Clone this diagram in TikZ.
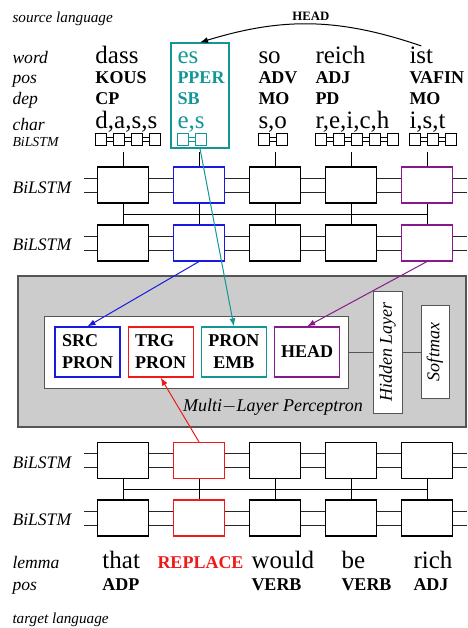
\documentclass[tikz,border=0pt]{standalone}
\usepackage{fontspec}
\setmainfont{Liberation Serif}
\usetikzlibrary{arrows.meta,positioning,calc}
\definecolor{CorAzul}{RGB}{25,25,225}
\definecolor{CorVermelho}{RGB}{240,25,25}
\definecolor{CorTeal}{RGB}{20,150,150}
\definecolor{CorRoxo}{RGB}{135,25,140}
\definecolor{CorCinza}{RGB}{204,204,204}
\definecolor{CorBorda}{RGB}{85,85,85}
\tikzset{
  rotulo/.style={anchor=base west, inner sep=0pt, font=\fontsize{8.8}{10}\selectfont\itshape},
  palavra/.style={anchor=base west, inner sep=0pt, font=\fontsize{12.5}{14}\selectfont},
  etiqueta/.style={anchor=base west, inner sep=0pt, font=\fontsize{9}{10}\selectfont\bfseries},
  celula/.style={draw, fill=white, line width=0.55pt, minimum width=25.5pt, minimum height=18pt, inner sep=0pt},
  celulinha/.style={draw, minimum width=5.5pt, minimum height=6pt, inner sep=0pt},
  traco/.style={draw, fill=white, line width=0.6pt, minimum width=32.5pt, minimum height=25pt,
                inner sep=0pt, align=left, font=\fontsize{9}{11}\selectfont\bfseries},
  camada/.style={draw=CorBorda, fill=white, rotate=90, inner sep=0pt,
                 font=\fontsize{9}{10}\selectfont\itshape},
  fio/.style={black!85},
  seta/.style={-{Latex[length=4pt,width=3pt]}},
}

\begin{document}
\begin{tikzpicture}[x=0.5pt, y=-0.5pt, line width=0.5pt]
  \useasboundingbox (0,0) rectangle (467,628);

  % Rótulos das linhas
  \node[rotulo, font=\fontsize{7.6}{9}\selectfont\itshape] (fonte) at (12,22) {source language};
  \node[rotulo, font=\fontsize{7.6}{9}\selectfont\itshape] (alvo) at (12,623) {target language};
  \node[rotulo, font=\fontsize{6.9}{8}\selectfont\itshape] (rotchar) at (12,146) {BiLSTM};
  \foreach \y/\txt [count=\n] in {63/word, 83/pos, 104/dep, 130/char, 193/BiLSTM, 250/BiLSTM,
                                  468/BiLSTM, 525/BiLSTM, 568/lemma, 590/pos}{
    \node[rotulo] (rot\n) at (12,\y) {\txt};
  }

  % Colunas da língua fonte (palavra, pos, dep, caracteres)
  \foreach \n/\x/\cor/\w/\p/\d/\c/\k in {1/95/black/dass/KOUS/CP/{d,a,s,s}/4,
      2/177/CorTeal/es/PPER/SB/{e,s}/2, 3/258/black/so/ADV/MO/{s,o}/2,
      4/315/black/reich/ADJ/PD/{r,e,i,c,h}/5, 5/409/black/ist/VAFIN/MO/{i,s,t}/3}{
    \node[palavra, text=\cor] (w\n) at (\x,63) {\w};
    \node[etiqueta, text=\cor] (p\n) at (\x,83) {\p};
    \node[etiqueta, text=\cor] (d\n) at (\x,104) {\d};
    \node[palavra, text=\cor] (ch\n) at (\x,128) {\c};
    \foreach \i in {1,...,\k}{
      \node[celulinha, draw=\cor] (c\n-\i) at ({\x+5.5+18*(\i-1)},139) {};
    }
    \foreach \i in {2,...,\k}{
      \pgfmathtruncatemacro\h{\i-1}
      \draw[draw=\cor] ([yshift=1pt]c\n-\h.east) -- ([yshift=1pt]c\n-\i.west);
      \draw[draw=\cor] ([yshift=-1pt]c\n-\h.east) -- ([yshift=-1pt]c\n-\i.west);
    }
  }
  \node[draw=CorTeal, line width=0.55pt, minimum width=29pt, minimum height=52.5pt,
        inner sep=0pt] (esbox) at (200,95.5) {};

  % Camadas BiLSTM (duas da fonte, duas do alvo)
  \foreach \r/\y/\a/\b in {1/185/CorAzul/CorRoxo, 2/243/CorAzul/CorRoxo,
                           3/460.5/CorVermelho/black, 4/518/CorVermelho/black}{
    \foreach \i/\cor in {1/black, 2/\a, 3/black, 4/black, 5/\b}{
      \node[celula, draw=\cor] (r\r-\i) at ({123+76*(\i-1)},\y) {};
    }
    \coordinate (r\r-ini) at (84,\y);
    \coordinate (r\r-fim) at (467,\y);
    \foreach \s in {-3.5,3.5}{
      \draw[fio] ([yshift=\s pt]r\r-ini) -- ([yshift=\s pt]r\r-1.west);
      \foreach \i in {2,...,5}{
        \pgfmathtruncatemacro\h{\i-1}
        \draw[fio] ([yshift=\s pt]r\r-\h.east) -- ([yshift=\s pt]r\r-\i.west);
      }
      \draw[fio] ([yshift=\s pt]r\r-5.east) -- ([yshift=\s pt]r\r-fim);
    }
  }
  \foreach \i in {1,...,5}{
    \draw (r1-\i.north) -- ++(0,-14);
    \draw (r1-\i.south) -- (r2-\i.north);
    \draw (r3-\i.south) -- (r4-\i.north);
  }
  \draw ($(r1-1.south)!0.5!(r2-1.north)$) -- ($(r1-5.south)!0.5!(r2-5.north)$);
  \draw ($(r3-1.south)!0.5!(r4-1.north)$) -- ($(r3-5.south)!0.5!(r4-5.north)$);

  % Palavras da língua alvo
  \foreach \n/\x/\l/\p in {1/102/that/ADP, 3/251/would/VERB, 4/341/be/VERB, 5/413/rich/ADJ}{
    \node[palavra] (l\n) at (\x,568) {\l};
    \node[etiqueta] (q\n) at (\x,590) {\p};
  }
  \node[etiqueta, text=CorVermelho] (l2) at (157,568) {REPLACE};

  % Perceptron multicamada
  \node[draw=CorBorda, fill=CorCinza, line width=0.8pt, minimum width=224pt,
        minimum height=75.5pt, inner sep=0pt] (mlp) at (242,351.5) {};
  \node[draw=CorBorda, fill=white, minimum width=152pt, minimum height=36pt,
        inner sep=0pt] (entrada) at (196,352) {};
  \node[traco, draw=CorAzul] (src) at (87.5,352) {SRC\\PRON};
  \node[traco, draw=CorVermelho, right=3.5pt of src] (trg) {TRG\\PRON};
  \node[traco, draw=CorTeal, right=3.5pt of trg, align=center] (emb) {PRON\\EMB};
  \node[traco, draw=CorRoxo, right=3.5pt of emb] (head) {HEAD};
  \node[camada, minimum width=61pt, minimum height=14.5pt] (oculta) at (387.5,352) {Hidden Layer};
  \node[camada, minimum width=46.5pt, minimum height=14pt] (softmax) at (435,352) {Softmax};
  \node[font=\fontsize{9}{10}\selectfont\itshape, inner sep=0pt] (mlptxt) at (273,407)
    {Multi$-$Layer Perceptron};
  \draw[CorBorda] (entrada) -- (oculta);
  \draw[CorBorda] (oculta) -- (softmax);

  % Setas para as componentes
  \draw[seta, CorAzul] (r2-2.south) -- (src.north);
  \draw[seta, CorTeal] (esbox.south) -- (emb.north);
  \draw[seta, CorRoxo] (r2-5.south) -- (head.north);
  \draw[seta, CorVermelho] (r3-2.north) -- (trg.south);
  \draw[seta] (w5.north) to[bend right=18]
    node[midway, above, inner sep=1.5pt, font=\fontsize{6.4}{7}\selectfont\bfseries] (headlbl) {HEAD}
    (esbox.north);
\end{tikzpicture}
\end{document}
